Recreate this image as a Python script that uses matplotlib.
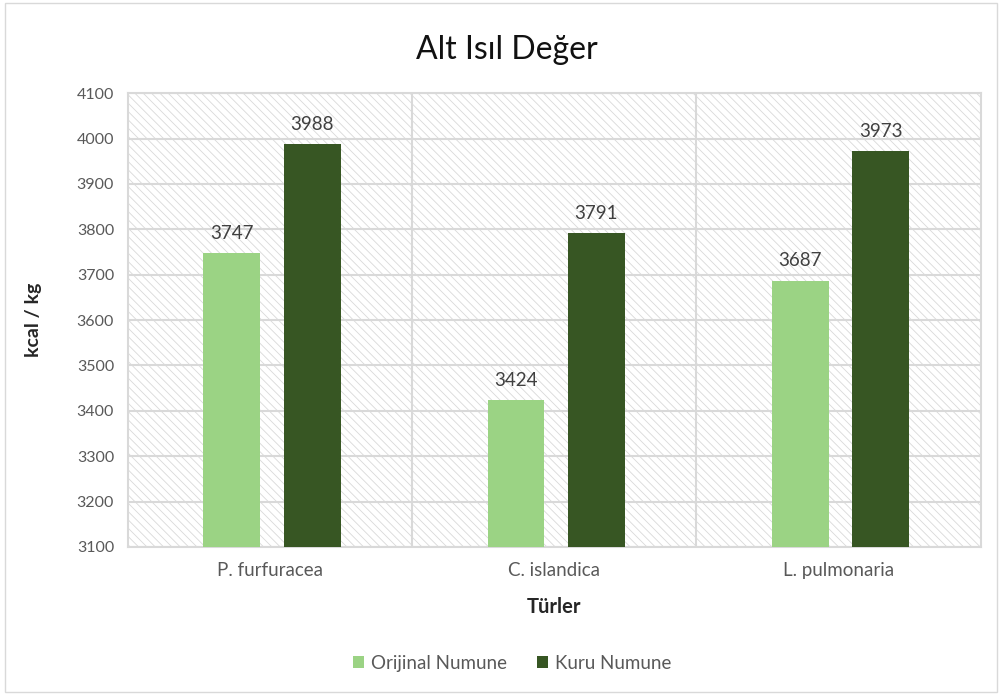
import numpy as np
import matplotlib.pyplot as plt
from matplotlib.patches import Rectangle

species = ['P. furfuracea', 'C. islandica', 'L. pulmonaria']
orijinal = [3747, 3424, 3687]
kuru = [3988, 3791, 3973]
yticks = list(range(3100, 4101, 100))

plt.rcParams['font.family'] = ['Lato', 'DejaVu Sans']
plt.rcParams['hatch.linewidth'] = 0.6
plt.rcParams['hatch.color'] = '#d9d9d9'

fig = plt.figure(figsize=(10.02, 6.95), dpi=100)
fig.patches.append(Rectangle((0.005, 0.005), 0.99, 0.99, transform=fig.transFigure,
                             fill=False, edgecolor='#d9d9d9', linewidth=1))
ax = fig.add_axes([0.1277, 0.213, 0.851, 0.653])

# hatched plot area background
ax.add_patch(Rectangle((0, 0), 1, 1, transform=ax.transAxes, facecolor='white',
                       edgecolor='#d9d9d9', hatch='\\\\\\\\', linewidth=0, zorder=0))

x = np.arange(len(species))
w = 0.2
b1 = ax.bar(x - 0.135, orijinal, w, color='#9bd384', label='Orijinal Numune', zorder=3)
b2 = ax.bar(x + 0.148, kuru, w, color='#375623', label='Kuru Numune', zorder=3)

for bars, vals in ((b1, orijinal), (b2, kuru)):
    for r, v in zip(bars, vals):
        ax.annotate(str(v), (r.get_x() + r.get_width() / 2, v), xytext=(0, 8),
                    textcoords='offset points', ha='center', va='bottom',
                    fontsize=13.5, color='#404040')

ax.set_ylim(3100, 4100)
ax.set_xlim(-0.5, 2.5)
ax.set_yticks(yticks)
ax.set_xticks(x)
ax.set_xticklabels(species)
ax.tick_params(axis='y', length=0, labelsize=11.5, labelcolor='#595959', pad=10)
ax.tick_params(axis='x', length=0, labelsize=13.5, labelcolor='#595959', pad=11)
ax.yaxis.grid(True, color='#d9d9d9', linewidth=1.5, zorder=1)
for xv in (0.5, 1.5):
    ax.axvline(xv, color='#d9d9d9', linewidth=1.5, zorder=1)
for s in ax.spines.values():
    s.set_color('#d9d9d9')
    s.set_linewidth(1.5)
ax.set_axisbelow(True)

ax.set_ylabel('kcal / kg', fontsize=14, fontweight='bold', color='#262626')
ax.set_xlabel('Türler', fontsize=14.5, fontweight='bold', color='#262626')
ax.yaxis.set_label_coords(-0.101, 0.5)
ax.xaxis.set_label_coords(0.5, -0.11)
fig.text(0.506, 0.928, 'Alt Isıl Değer', ha='center', va='center', fontsize=23, color='#111111')

fig.legend(handles=[b1, b2], loc='center', bbox_to_anchor=(0.511, 0.046), ncol=2,
           frameon=False, fontsize=13.5, labelcolor='#595959', handlelength=0.6,
           handleheight=0.6, handletextpad=0.35, columnspacing=1.6)

fig.savefig('out.png', dpi=100)
